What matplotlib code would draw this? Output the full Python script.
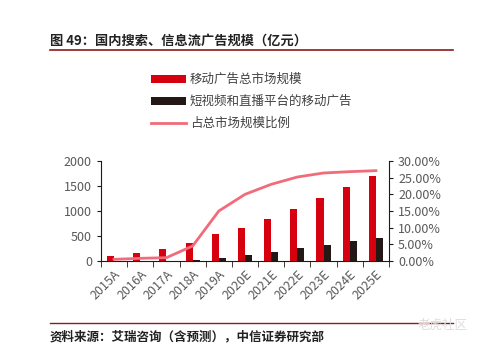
import matplotlib.pyplot as plt
from matplotlib.ticker import FuncFormatter, FixedLocator
import numpy as np

plt.rcParams['font.family'] = ['Noto Sans CJK SC', 'DejaVu Sans']

years = ['2015A', '2016A', '2017A', '2018A', '2019A', '2020E',
         '2021E', '2022E', '2023E', '2024E', '2025E']
total_mobile = [95, 165, 245, 355, 535, 670, 840, 1040, 1250, 1470, 1690]
short_video = [2, 4, 8, 15, 70, 125, 190, 260, 330, 400, 460]
share = [0.5, 0.8, 1.0, 4.5, 15.0, 20.0, 23.0, 25.2, 26.4, 26.8, 27.1]

red = '#D7000F'
black = '#231815'
pink = '#F26B7A'
grey = '#595959'

fig = plt.figure(figsize=(4.8, 3.52), dpi=100)
ax = fig.add_axes([101 / 480, 1 - 261 / 352, 288 / 480, 100 / 352])
x = np.arange(len(years))
w = 0.27
ax.bar(x - w / 2, total_mobile, w, color=red, label='移动广告总市场规模')
ax.bar(x + w / 2, short_video, w, color=black, label='短视频和直播平台的移动广告')
ax.set_xlim(-0.5, len(years) - 0.5)
ax.set_ylim(0, 2000)
ax.set_yticks([0, 500, 1000, 1500, 2000])
ax.set_xticks(x)
ax.set_xticklabels(years, rotation=45, ha='right', rotation_mode='anchor')
ax.xaxis.set_minor_locator(FixedLocator(np.arange(-0.5, len(years), 1)))
ax.tick_params(axis='x', which='major', length=0, labelsize=9, colors=grey, pad=5)
ax.tick_params(axis='x', which='minor', length=4, direction='out', color=black)
ax.tick_params(axis='y', labelsize=9, colors=grey, length=3, color=black)
for s in ['top', 'right']:
    ax.spines[s].set_visible(False)
ax.spines['left'].set_color(black)
ax.spines['bottom'].set_color(black)

ax2 = ax.twinx()
ax2.plot(x, share, color=pink, lw=2, label='占总市场规模比例')
ax2.set_ylim(0, 30)
ax2.set_yticks(np.arange(0, 31, 5))
ax2.yaxis.set_major_formatter(FuncFormatter(lambda v, p: f'{v:.2f}%'))
ax2.tick_params(axis='y', labelsize=9, colors=grey, length=3, color=black)
for s in ['top', 'left', 'bottom']:
    ax2.spines[s].set_visible(False)
ax2.spines['right'].set_color(black)

h1, l1 = ax.get_legend_handles_labels()
h2, l2 = ax2.get_legend_handles_labels()
fig.legend(h1 + h2, l1 + l2, loc='upper left', bbox_to_anchor=(140 / 480, 1 - 62 / 352),
           frameon=False, fontsize=9, labelspacing=0.7, handlelength=2.8,
           handleheight=0.6, handletextpad=0.3, labelcolor='#404040')

fig.text(50 / 480, 1 - 41 / 352, '图 49：国内搜索、信息流广告规模（亿元）',
         fontsize=9.5, color='#222222', va='center', fontweight='bold')
fig.add_artist(plt.Line2D([50 / 480, 453 / 480], [1 - 50 / 352, 1 - 50 / 352],
                          color='#8B1A1A', lw=1.2))
fig.add_artist(plt.Line2D([50 / 480, 453 / 480], [1 - 323 / 352, 1 - 323 / 352],
                          color='#8B1A1A', lw=1.0))
fig.text(50 / 480, 1 - 337 / 352, '资料来源：艾瑞咨询（含预测），中信证券研究部',
         fontsize=9, color='#222222', va='center', fontweight='bold')
fig.text(468 / 480, 1 - 325 / 352, '老虎社区', fontsize=9, color='#DDDDDD',
         ha='right', va='center')

fig.savefig('out.png', dpi=100)
